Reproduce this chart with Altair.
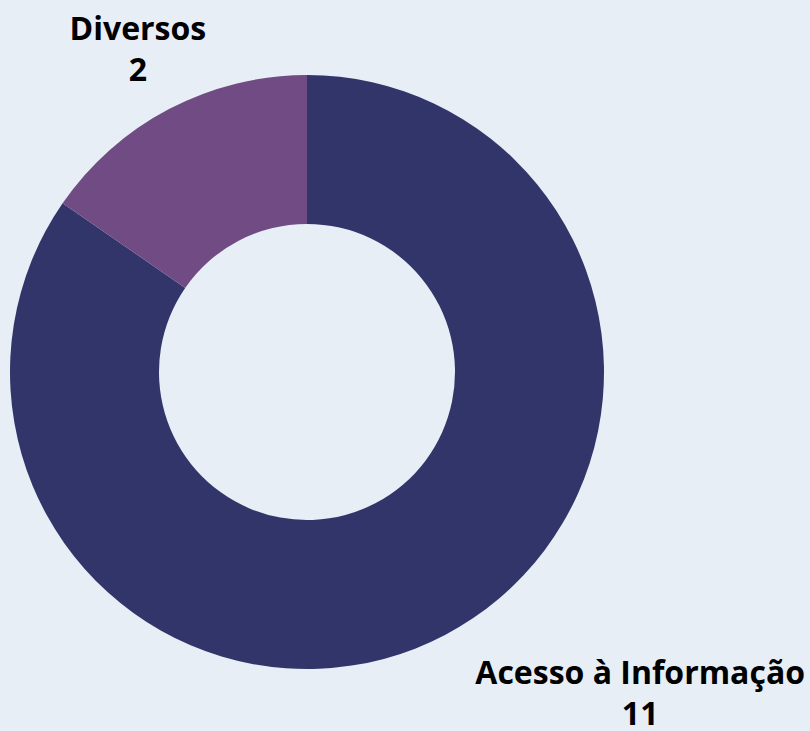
import altair as alt
import pandas as pd

categories = ["Acesso à Informação", "Diversos"]
values = [11, 2]
order = [1, 2]

df = pd.DataFrame({"categoria": categories, "valor": values, "ordem": order})

colors = ["#31356A", "#714C84"]
CX, CY = 307, 372

arc = alt.Chart(df).mark_arc(innerRadius=148, outerRadius=297).encode(
    theta=alt.Theta("valor:Q", stack=True),
    order=alt.Order("ordem:Q"),
    color=alt.Color("categoria:N", scale=alt.Scale(domain=categories, range=colors), legend=None),
    x=alt.value(CX),
    y=alt.value(CY),
)

text_base = alt.Chart(df).transform_window(
    cum="sum(valor)", sort=[alt.SortField("ordem")]
).transform_joinaggregate(
    total="sum(valor)"
).transform_calculate(
    meio="(datum.cum - datum.valor / 2) / datum.total",
    rotulo="datum.categoria + '\\n' + datum.valor",
).encode(
    theta=alt.Theta("meio:Q", stack=None, scale=alt.Scale(domain=[0, 1], range=[0, 6.283185307])),
    text="rotulo:N",
    x=alt.value(CX),
    y=alt.value(CY),
)

style = dict(radius=364, align="center", baseline="middle", lineBreak="\n", dy=-20,
             font="Open Sans", fontWeight="bold", fontSize=32, lineHeight=41, color="#000000")

lbl_div = text_base.transform_filter(alt.datum.categoria == "Diversos").mark_text(**style)
lbl_ac = text_base.transform_filter(alt.datum.categoria == "Acesso à Informação").mark_text(dx=164, **style)

chart = alt.layer(arc, lbl_div, lbl_ac).resolve_scale(theta="independent").properties(
    width=810, height=731, background="#E7EEF5",
    autosize=alt.AutoSizeParams(type="none"), padding=0
).configure_view(stroke=None)

chart.save("out.html", embed_options={"renderer": "svg", "actions": False})
